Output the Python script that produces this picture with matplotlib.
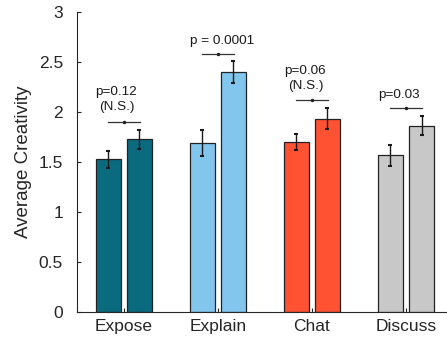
import matplotlib.pyplot as plt
import numpy as np

plt.rcParams['font.family'] = ['Liberation Sans', 'DejaVu Sans']

categories = ['Expose', 'Explain', 'Chat', 'Discuss']
colors = ['#0b6b7e', '#82c6ee', '#fe5233', '#c8c8c8']
before = [1.53, 1.69, 1.70, 1.57]
after = [1.73, 2.40, 1.935, 1.865]
err_before = [0.085, 0.13, 0.08, 0.105]
err_after = [0.095, 0.11, 0.105, 0.095]
p_labels = ['p=0.12\n(N.S.)', 'p = 0.0001', 'p=0.06\n(N.S.)', 'p=0.03']
sig_y = [1.905, 2.58, 2.12, 2.045]
text_dx = [-0.08, 0.04, -0.07, -0.07]

x = np.arange(1, len(categories) + 1)
w = 0.265
off = 0.165

fig = plt.figure(figsize=(4.47, 3.40), dpi=100)
ax = fig.add_axes([0.172, 0.083, 0.828, 0.881])

ax.bar(x - off, before, w, color=colors, edgecolor='#222222', linewidth=0.9, zorder=2)
ax.bar(x + off, after, w, color=colors, edgecolor='#222222', linewidth=0.9, zorder=2)
for xs, ys, es in [(x - off, before, err_before), (x + off, after, err_after)]:
    ax.errorbar(xs, ys, yerr=es, fmt='none', ecolor='#1a1a1a', elinewidth=1.0,
                capsize=1.2, capthick=1.5, zorder=3)

for i in range(len(categories)):
    ax.plot([x[i] - 0.17, x[i] + 0.17], [sig_y[i], sig_y[i]], color='#333333', lw=0.9, zorder=3)
    ax.plot(x[i], sig_y[i], 'o', color='#222222', ms=1.5, zorder=4)
    dy = 0.085 if '\n' in p_labels[i] else 0.07
    ax.text(x[i] + text_dx[i], sig_y[i] + dy, p_labels[i],
            ha='center', va='bottom', fontsize=9.7, linespacing=1.3, color='#1a1a1a')

ax.set_xlim(0.5, 4.436)
ax.set_ylim(0, 3)
ax.set_yticks([0, 0.5, 1, 1.5, 2, 2.5, 3])
ax.set_yticklabels(['0', '0.5', '1', '1.5', '2', '2.5', '3'])
ax.set_xticks(x)
ax.set_xticklabels(categories)
ax.set_ylabel('Average Creativity', fontsize=13.5, color='#262626', labelpad=5)

for s in ['top', 'right']:
    ax.spines[s].set_visible(False)
for s in ['left', 'bottom']:
    ax.spines[s].set_color('#262626')
    ax.spines[s].set_linewidth(0.8)
ax.tick_params(axis='both', direction='in', length=3, width=0.8, color='#262626',
               labelsize=12.5, labelcolor='#262626')
ax.tick_params(axis='x', pad=5)
ax.tick_params(axis='y', pad=10)

fig.savefig('out.png', dpi=100)
